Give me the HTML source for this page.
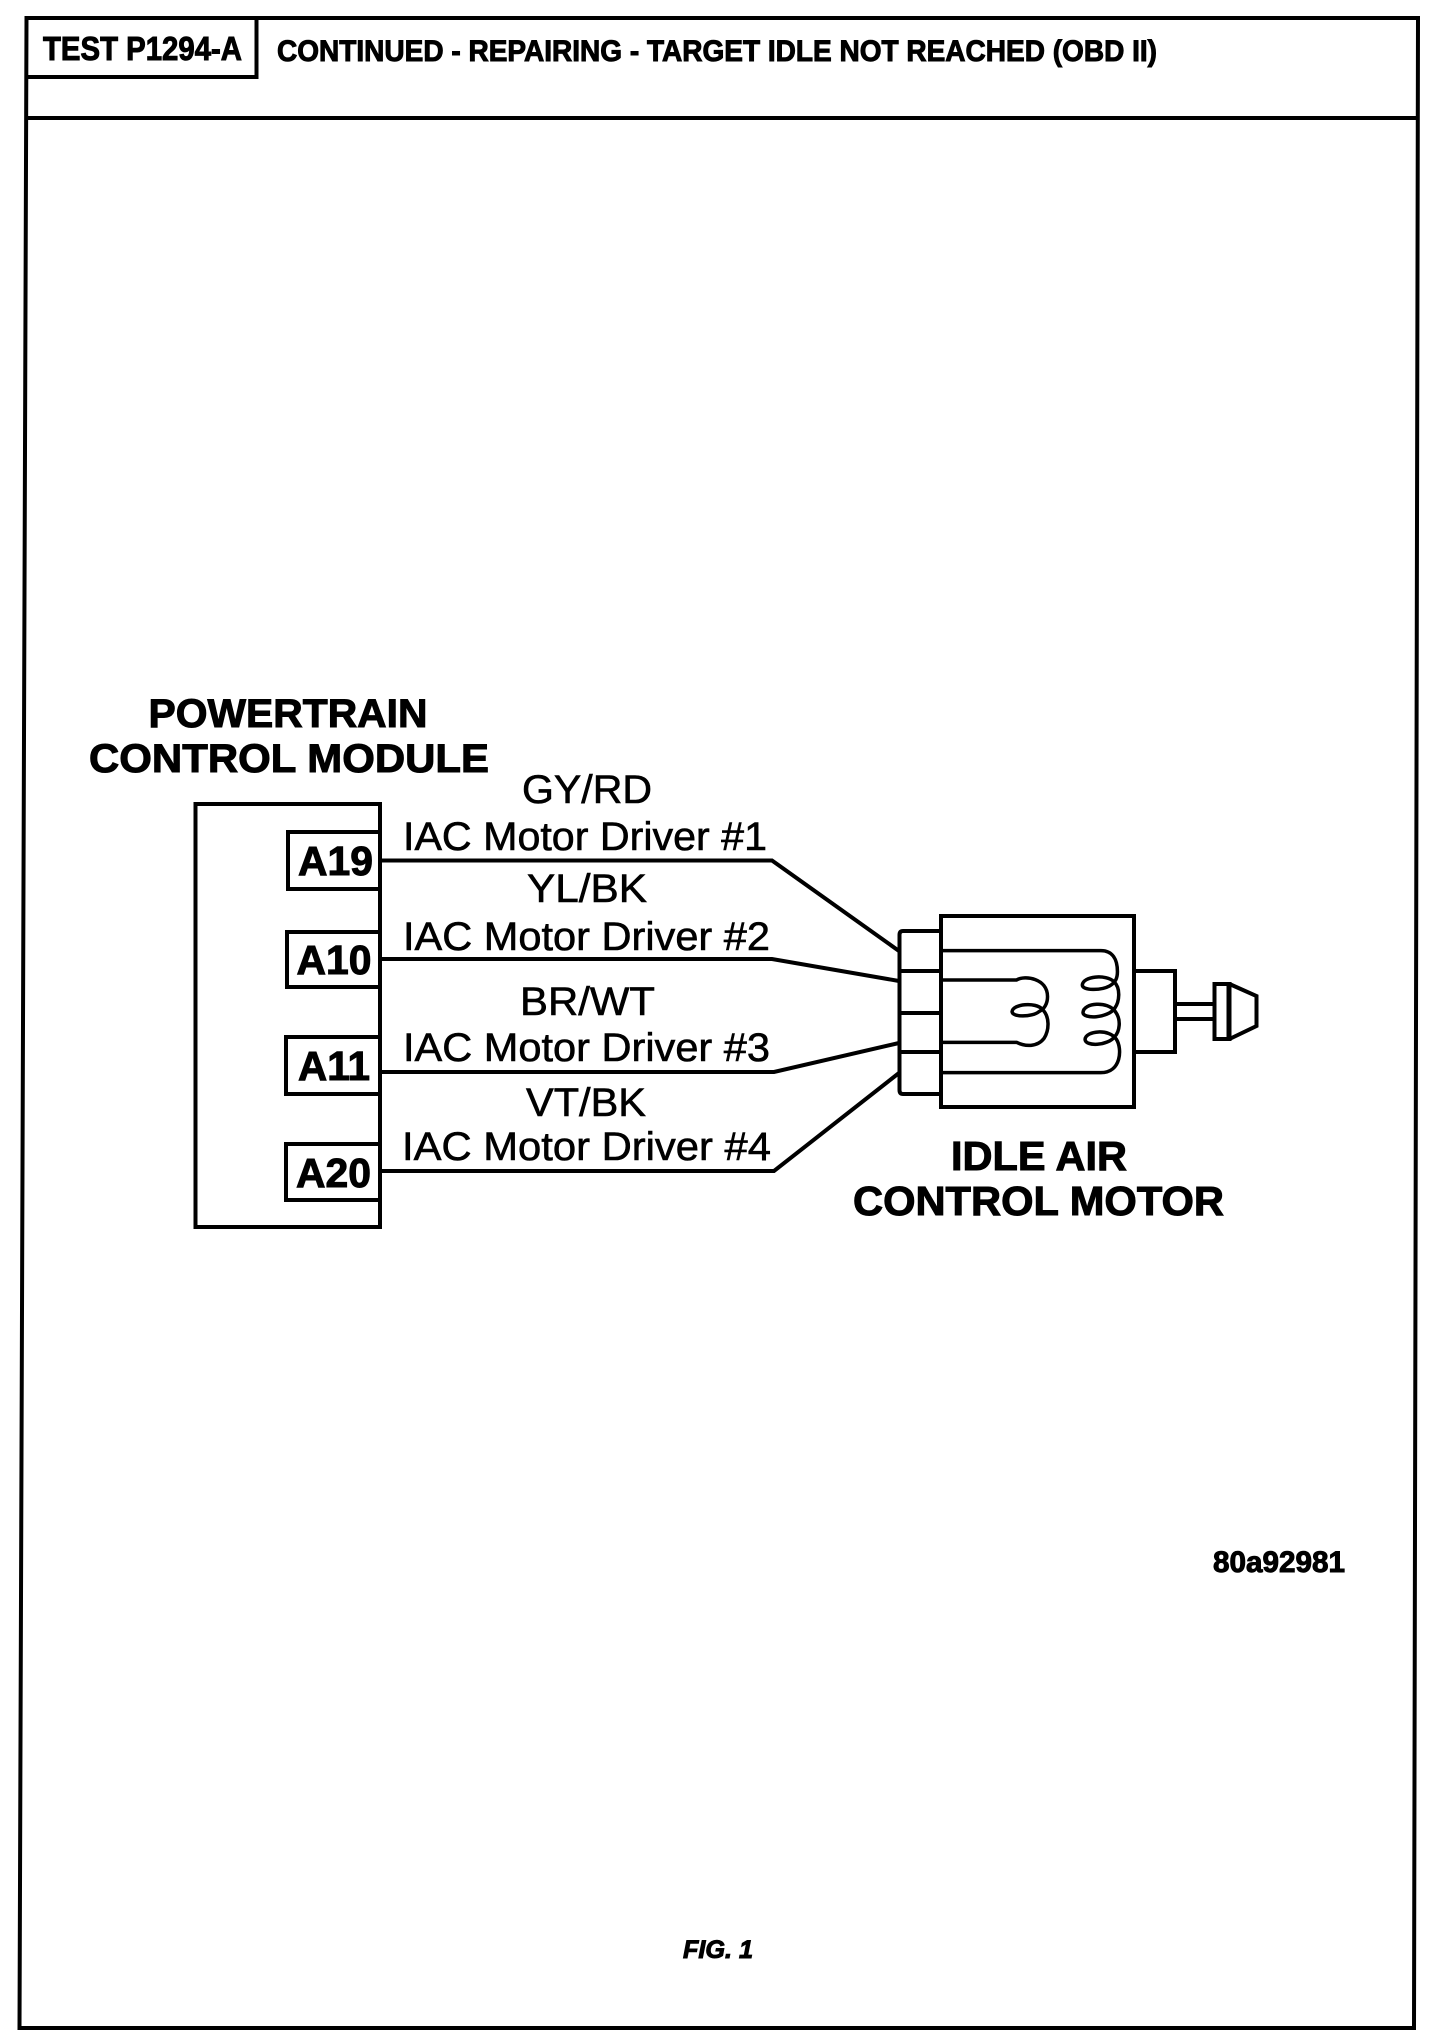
<!DOCTYPE html>
<html>
<head>
<meta charset="utf-8">
<style>
html,body{margin:0;padding:0;background:#fff;width:1456px;height:2040px;overflow:hidden}
svg{display:block}
text{font-family:"Liberation Sans",Arial,sans-serif;fill:#000}
.b{font-weight:bold;stroke:#000;stroke-width:1px}
.r{stroke:#000;stroke-width:.6px}
</style>
</head>
<body>
<svg width="1456" height="2040" viewBox="0 0 1456 2040" xmlns="http://www.w3.org/2000/svg">
<rect width="1456" height="2040" fill="#fff"/>
<g fill="none" stroke="#000" stroke-width="4">
  <path d="M26.5,18 H1418 L1414,2028 H19.5 Z" stroke-linejoin="miter"/>
  <path d="M26,118 H1417.5"/>
  <path d="M25.5,77 H256.5 V18"/>
</g>
<text class="b" x="43" y="60" font-size="33" textLength="199" lengthAdjust="spacingAndGlyphs">TEST P1294-A</text>
<text class="b" x="277" y="61" font-size="30" textLength="880" lengthAdjust="spacingAndGlyphs">CONTINUED - REPAIRING - TARGET IDLE NOT REACHED (OBD II)</text>

<text class="b" x="148.5" y="727" font-size="40" textLength="279" lengthAdjust="spacingAndGlyphs">POWERTRAIN</text>
<text class="b" x="89" y="772" font-size="40" textLength="400" lengthAdjust="spacingAndGlyphs">CONTROL MODULE</text>

<g fill="none" stroke="#000" stroke-width="4">
  <path d="M380,804 H195.5 V1227 H380 Z"/>
  <path d="M380,832 H288 V889 H380"/>
  <path d="M380,932 H287 V987 H380"/>
  <path d="M380,1037 H286 V1094 H380"/>
  <path d="M380,1144 H286 V1200 H380"/>
  <path d="M380,860.5 H772 L899,951"/>
  <path d="M380,959 H772 L899,981"/>
  <path d="M380,1072 H774 L899,1043"/>
  <path d="M380,1171 H774 L899,1073"/>
</g>

<text class="b" x="298" y="875" font-size="41" textLength="75" lengthAdjust="spacingAndGlyphs">A19</text>
<text class="b" x="296.5" y="974" font-size="41" textLength="75" lengthAdjust="spacingAndGlyphs">A10</text>
<text class="b" x="298" y="1080" font-size="41" textLength="72" lengthAdjust="spacingAndGlyphs">A11</text>
<text class="b" x="296" y="1187" font-size="41" textLength="75" lengthAdjust="spacingAndGlyphs">A20</text>

<text class="r" x="522" y="803" font-size="40" textLength="130" lengthAdjust="spacingAndGlyphs">GY/RD</text>
<text class="r" x="403" y="850" font-size="40" textLength="364" lengthAdjust="spacingAndGlyphs">IAC Motor Driver #1</text>
<text class="r" x="527" y="902" font-size="40" textLength="120" lengthAdjust="spacingAndGlyphs">YL/BK</text>
<text class="r" x="403" y="950" font-size="40" textLength="367" lengthAdjust="spacingAndGlyphs">IAC Motor Driver #2</text>
<text class="r" x="520" y="1015" font-size="40" textLength="135" lengthAdjust="spacingAndGlyphs">BR/WT</text>
<text class="r" x="403" y="1061" font-size="40" textLength="367" lengthAdjust="spacingAndGlyphs">IAC Motor Driver #3</text>
<text class="r" x="526" y="1116" font-size="40" textLength="120" lengthAdjust="spacingAndGlyphs">VT/BK</text>
<text class="r" x="402" y="1160" font-size="40" textLength="369" lengthAdjust="spacingAndGlyphs">IAC Motor Driver #4</text>

<g fill="none" stroke="#000" stroke-width="4">
  <path d="M941,931 H903 Q899.5,931 899.5,935 V1090 Q899.5,1094 903,1094 H941"/>
  <path d="M899.5,971 H941 M899.5,1013 H941 M899.5,1052 H941"/>
  <rect x="941" y="916" width="193" height="191"/>
  <path d="M1135,971 H1175 V1052 H1135"/>
  <path d="M1177,1004 H1214.5 M1177,1019 H1214.5"/>
  <rect x="1214.5" y="984" width="15" height="55"/>
  <path d="M1229.5,984 L1256.5,996 V1026 L1229.5,1039" />
  <path d="M1229,984 V1039" stroke-width="5"/>
</g>
<g transform="translate(760,880) scale(.34435,.33333)" fill="none" stroke="#000">
  <path vector-effect="non-scaling-stroke" stroke-width="3.5" d="M530,212 H990 C1025,212 1038,240 1038,275 C1038,295 1032,308 1015,318 C990,332 936,332 936,315 C938,288 1005,282 1028,305 C1048,325 1044,365 1030,385 C1010,415 938,418 938,397 C940,368 1010,362 1032,395 C1050,420 1044,455 1030,470 C1010,498 944,500 944,478 C946,452 1015,445 1035,478 C1052,505 1050,578 990,578 H525"/>
  <path vector-effect="non-scaling-stroke" stroke-width="3.5" d="M530,300 H745 C770,285 835,295 835,350 C835,372 825,388 810,395 C790,412 732,412 732,395 C734,372 800,365 820,388 C842,410 840,450 825,475 C805,502 770,500 745,487 H530"/>
</g>

<text class="b" x="951" y="1170" font-size="41" textLength="176" lengthAdjust="spacingAndGlyphs">IDLE AIR</text>
<text class="b" x="853" y="1215" font-size="41" textLength="371" lengthAdjust="spacingAndGlyphs">CONTROL MOTOR</text>

<text class="b" x="1213" y="1572" font-size="30" textLength="132" lengthAdjust="spacingAndGlyphs">80a92981</text>
<text class="b" x="683" y="1958" font-size="25" font-style="italic" textLength="70" lengthAdjust="spacingAndGlyphs">FIG. 1</text>
</svg>
</body>
</html>
